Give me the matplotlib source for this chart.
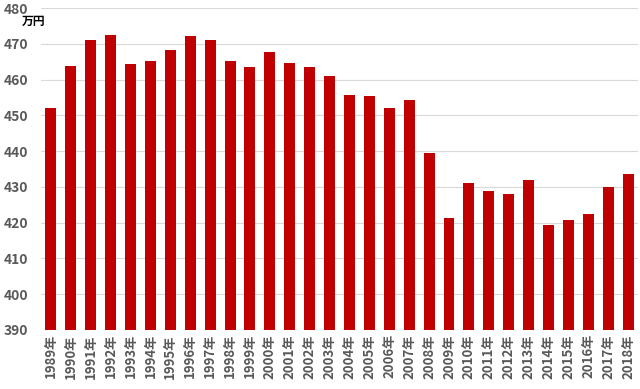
import matplotlib
matplotlib.use("Agg")
import matplotlib.pyplot as plt

plt.rcParams['font.family'] = ['Noto Sans CJK JP', 'DejaVu Sans']

# 平均給与（万円）
years = list(range(1989, 2019))
salary = [452.0, 463.8, 471.1, 472.6, 464.3, 465.2, 468.4, 472.2, 471.1, 465.2,
          463.6, 467.6, 464.8, 463.6, 460.9, 455.7, 455.5, 452.1, 454.2, 439.4,
          421.3, 431.1, 428.9, 428.0, 432.0, 419.4, 420.7, 422.3, 430.1, 433.6]
labels = [f"{y}年" for y in years]

fig = plt.figure(figsize=(6.4, 3.89), dpi=100)
ax = fig.add_axes([0.064, 0.152, 0.933, 0.827])

x = range(len(years))
ax.bar(x, [v - 390 for v in salary], bottom=390, width=0.55, color="#c00000", zorder=3)

ax.set_ylim(390, 480)
ax.set_xlim(-0.5, len(years) - 0.5)
ax.set_yticks(range(390, 481, 10))
ax.set_xticks(list(x))
ax.set_xticklabels(labels, rotation=90)
ax.grid(axis="y", color="#d9d9d9", linewidth=0.8, zorder=0)
for s in ax.spines.values():
    s.set_visible(False)
ax.tick_params(length=0)
ax.tick_params(axis="y", pad=9, labelsize=10, labelcolor="#595959")
ax.tick_params(axis="x", pad=3, labelsize=9.5, labelcolor="#595959")
for t in ax.get_yticklabels() + ax.get_xticklabels():
    t.set_fontweight("bold")

fig.text(0.034, 0.945, "万円", fontsize=8.5, color="black", va="center", fontweight="bold")

fig.savefig("out.png", dpi=100)
